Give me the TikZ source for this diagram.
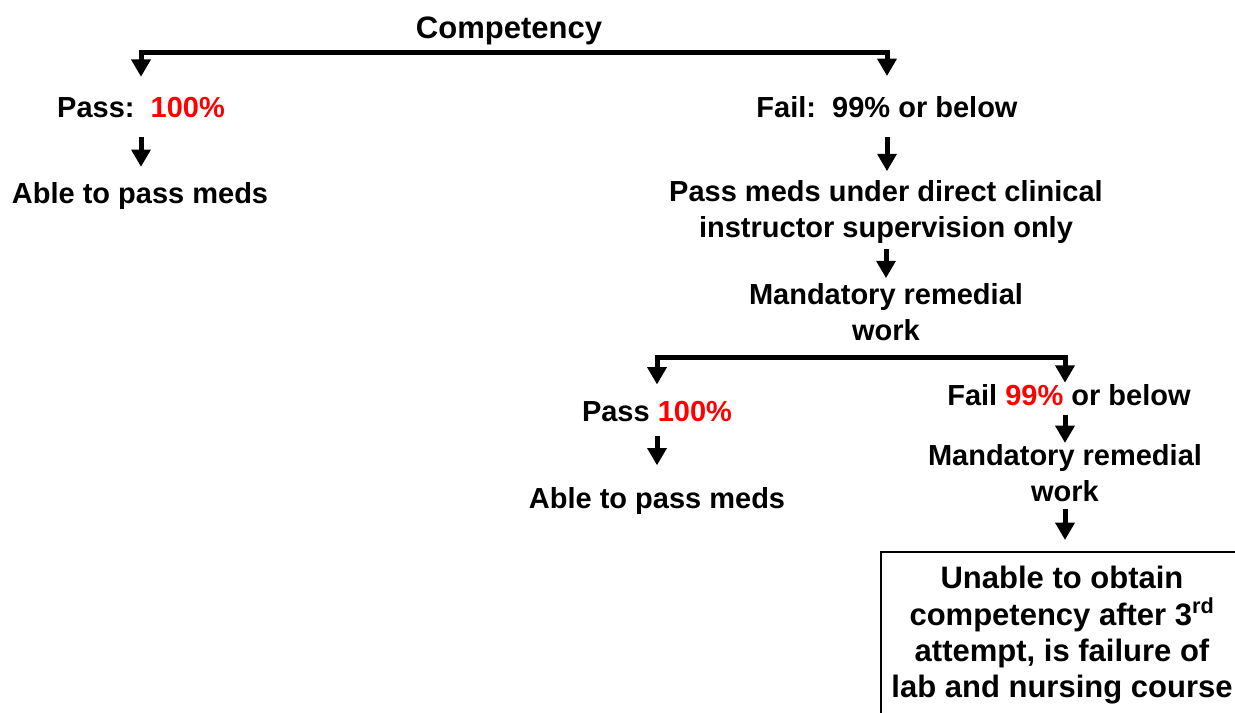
\documentclass[tikz,border=0pt]{standalone}
\usepackage{fontspec}
\setmainfont{Liberation Sans}
\usepackage{tikz}
\usetikzlibrary{positioning,arrows.meta}
\tikzstyle{txt}=[inner sep=0pt, anchor=base, align=center, font=\fontsize{21.75}{27}\selectfont\bfseries]
\tikzstyle{bigtxt}=[txt, font=\fontsize{23.25}{27.2}\selectfont\bfseries]
\tikzstyle{arr}=[line width=3.75pt, ->]

\begin{document}
\begin{tikzpicture}[>={Triangle[width=14pt,length=13pt]}, x=0.75pt, y=-0.75pt]

\useasboundingbox (0,0) rectangle (1235,713);
\clip (0,0) rectangle (1235,713);

% first split
\node [bigtxt] (comp) at (509,39) {Competency};
\coordinate [below=4.9pt of comp] (split1);
\node [txt] (pass) at (141,118) {Pass:~~{\color{red}100\%}};
\node [txt] (fail) at (887,118) {Fail:~~99\% or below};
\draw [arr, shorten >=15.5pt] (split1) -| (pass.north);
\draw [arr, shorten >=15.5pt] (split1) -| (fail.north);

% pass branch
\node [txt] (able) at (140,204) {Able to pass meds};
\draw [arr, shorten <=13.9pt, shorten >=11.9pt] (pass.south) -- (pass.south |- able.north);

% fail branch
\node [txt, anchor=north] (direct) at (886,180.5) {Pass meds under direct clinical\\instructor supervision only};
\draw [arr, shorten <=13.9pt, shorten >=7pt] (fail.south) -- (fail.south |- direct.north);
\node [txt, anchor=north] (mand1) at (886,283.5) {Mandatory remedial\\work};
\draw [arr, shorten <=4pt, shorten >=4pt] (direct.south) -- (direct.south |- mand1.north);

% second split
\coordinate [below=12.5pt of mand1] (split2);
\node [txt] (passB) at (657,421) {Pass {\color{red}100\%}};
\node [txt] (failB) at (1069,405) {Fail {\color{red}99\%} or below};
\node [txt, anchor=north] (mand2) at (1065,444) {Mandatory remedial\\work};
\draw [arr, shorten >=12pt] (split2) -| (passB.north);
\draw [arr, shorten >=0.75pt] (split2) -| (mand2.north |- failB.north);

% pass again
\node [txt] (ableB) at (657,508) {Able to pass meds};
\draw [arr, shorten <=10.5pt, shorten >=16pt] (passB.south) -- (passB.south |- ableB.north);

% fail again
\draw [arr, shorten <=6.75pt, shorten >=0.75pt] (mand2.north |- failB.south) -- (mand2.north);
\node [bigtxt, draw, line width=1.5pt, anchor=north, outer sep=0pt, minimum width=271.5pt, minimum height=125pt] (box) at (1062,552) {Unable to obtain\\competency after 3\textsuperscript{rd}\\attempt, is failure of\\lab and nursing course};
\draw [arr, shorten <=5pt, shorten >=9pt] (mand2.south) -- (mand2.south |- box.north);

\end{tikzpicture}
\end{document}
